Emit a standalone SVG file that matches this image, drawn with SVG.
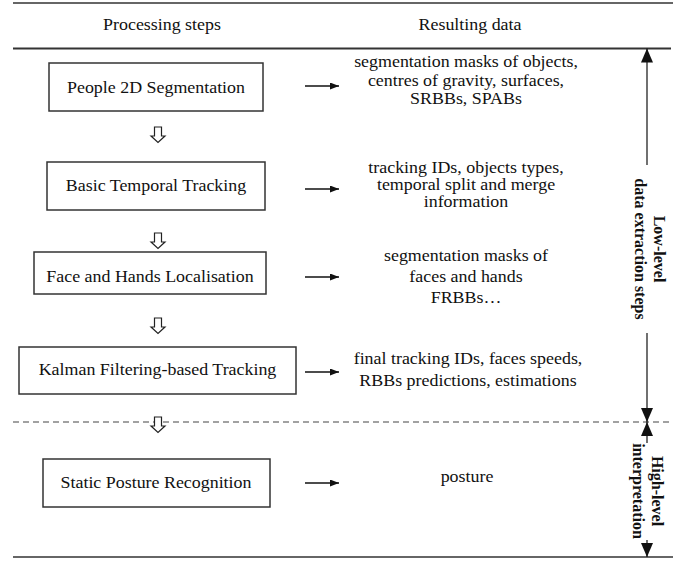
<svg xmlns="http://www.w3.org/2000/svg" width="687" height="563" viewBox="0 0 687 563">
<style>
  .t{font-family:"Liberation Serif","Times New Roman",serif;font-size:16px;fill:#111;text-anchor:middle}
  .b{font-family:"Liberation Serif","Times New Roman",serif;font-size:16px;font-weight:bold;fill:#111;text-anchor:middle}
  .box{fill:#fff;stroke:#333;stroke-width:1.5}
  .rule{stroke:#333;stroke-width:1.5;fill:none}
  .dash{stroke:#444;stroke-width:1.2;stroke-dasharray:6 4;fill:none}
  .ln{stroke:#111;stroke-width:1.4;fill:none}
  .vl{stroke:#111;stroke-width:1.2;fill:none}
  .flow{fill:#fff;stroke:#222;stroke-width:1.2}
</style>
<defs>
  <marker id="ah" viewBox="0 0 9 7" refX="9" refY="3.5" markerWidth="9" markerHeight="7" markerUnits="userSpaceOnUse" orient="auto">
    <path d="M0,0L9,3.5L0,7Z" fill="#111"/>
  </marker>
  <marker id="av" viewBox="0 0 14 12" refX="14" refY="6" markerWidth="14" markerHeight="12" markerUnits="userSpaceOnUse" orient="auto">
    <path d="M0,0L14,6L0,12Z" fill="#111"/>
  </marker>
  <path id="down" d="M-3.5,0H3.5V9H7L0,15.5L-7,9H-3.5Z"/>
</defs>

<g id="frame">
  <line class="rule" x1="13" y1="3" x2="673" y2="3"/>
  <line class="rule" x1="13" y1="48.5" x2="671" y2="48.5" style="stroke-width:2"/>
  <line class="dash" x1="13" y1="422" x2="673" y2="422"/>
  <line class="rule" x1="13" y1="557" x2="673" y2="557"/>
  <text class="t" transform="translate(162,30) scale(1.12,1)">Processing steps</text>
  <text class="t" transform="translate(470,30) scale(1.12,1)">Resulting data</text>
</g>

<g id="connectors">
  <line class="ln" x1="305" y1="86" x2="339" y2="86" marker-end="url(#ah)"/>
  <line class="ln" x1="305" y1="189" x2="339" y2="189" marker-end="url(#ah)"/>
  <line class="ln" x1="305" y1="277" x2="339" y2="277" marker-end="url(#ah)"/>
  <line class="ln" x1="305" y1="372" x2="339" y2="372" marker-end="url(#ah)"/>
  <line class="ln" x1="305" y1="483" x2="339" y2="483" marker-end="url(#ah)"/>
  <use href="#down" class="flow" transform="translate(158,127)"/>
  <use href="#down" class="flow" transform="translate(158,233)"/>
  <use href="#down" class="flow" transform="translate(158,318)"/>
  <use href="#down" class="flow" transform="translate(158,417)"/>
  <line class="vl" x1="647" y1="165" x2="647" y2="48.5" marker-end="url(#av)"/>
  <line class="vl" x1="647" y1="333" x2="647" y2="422" marker-end="url(#av)"/>
  <line class="vl" x1="647" y1="443" x2="647" y2="422" marker-end="url(#av)"/>
  <line class="vl" x1="647" y1="540" x2="647" y2="557" marker-end="url(#av)"/>
</g>

<g id="step-segmentation">
  <rect class="box" x="49" y="63" width="214" height="48"/>
  <text class="t" transform="translate(156,93) scale(1.12,1)">People 2D Segmentation</text>
</g>
<g id="data-segmentation">
  <text class="t" transform="translate(466,67) scale(1.12,1)">segmentation masks of objects,</text>
  <text class="t" transform="translate(466,85.5) scale(1.12,1)">centres of gravity, surfaces,</text>
  <text class="t" transform="translate(466,104) scale(1.12,1)">SRBBs, SPABs</text>
</g>

<g id="step-tracking">
  <rect class="box" x="47" y="162" width="218" height="48"/>
  <text class="t" transform="translate(156,191) scale(1.12,1)">Basic Temporal Tracking</text>
</g>
<g id="data-tracking">
  <text class="t" transform="translate(466,173) scale(1.12,1)">tracking IDs, objects types,</text>
  <text class="t" transform="translate(466,190) scale(1.12,1)">temporal split and merge</text>
  <text class="t" transform="translate(466,207) scale(1.12,1)">information</text>
</g>

<g id="step-face">
  <rect class="box" x="34" y="252" width="232" height="42"/>
  <text class="t" transform="translate(150,282) scale(1.12,1)">Face and Hands Localisation</text>
</g>
<g id="data-face">
  <text class="t" transform="translate(466,261) scale(1.12,1)">segmentation masks of</text>
  <text class="t" transform="translate(466,282) scale(1.12,1)">faces and hands</text>
  <text class="t" transform="translate(466,303) scale(1.12,1)">FRBBs…</text>
</g>

<g id="step-kalman">
  <rect class="box" x="19" y="347" width="277" height="47"/>
  <text class="t" transform="translate(157.5,375) scale(1.12,1)">Kalman Filtering-based Tracking</text>
</g>
<g id="data-kalman">
  <text class="t" transform="translate(468,364) scale(1.12,1)">final tracking IDs, faces speeds,</text>
  <text class="t" transform="translate(468,386) scale(1.12,1)">RBBs predictions, estimations</text>
</g>

<g id="step-posture">
  <rect class="box" x="43" y="459" width="227" height="48"/>
  <text class="t" transform="translate(156,488) scale(1.12,1)">Static Posture Recognition</text>
</g>
<g id="data-posture">
  <text class="t" transform="translate(467,482) scale(1.12,1)">posture</text>
</g>

<g id="label-low" transform="translate(647,249) rotate(90)">
  <text class="b" x="0" y="-6.5">Low-level</text>
  <text class="b" x="0" y="12.5">data extraction steps</text>
</g>
<g id="label-high" transform="translate(647,491) rotate(90)">
  <text class="b" x="0" y="-5">High-level</text>
  <text class="b" x="0" y="14">interpretation</text>
</g>
</svg>
